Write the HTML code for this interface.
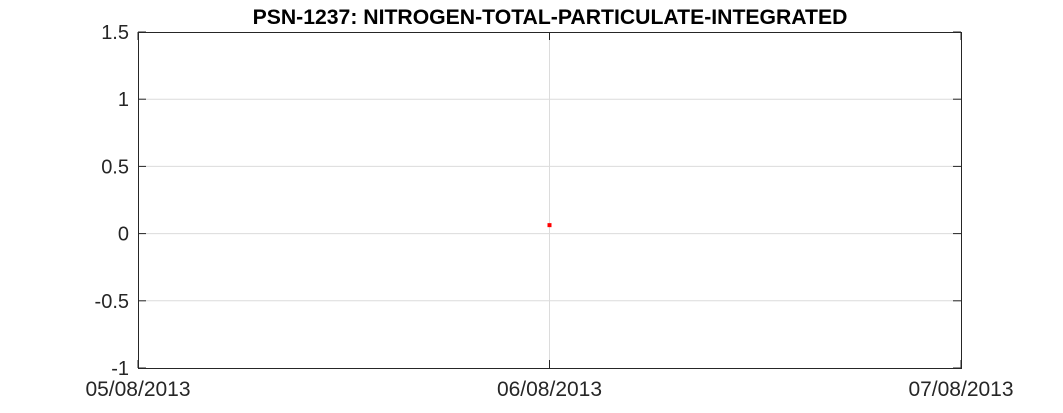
<!DOCTYPE html>
<html><head><meta charset="utf-8"><style>
body{margin:0;background:#fff;}
svg{display:block;font-family:"Liberation Sans",Arial,sans-serif;}
</style></head><body>
<svg id="chart" width="1063" height="413">
<text x="550" y="24" text-anchor="middle" font-size="21.2" font-weight="bold" fill="#000">PSN-1237: NITROGEN-TOTAL-PARTICULATE-INTEGRATED</text>
<g id="grid"></g><g id="axes"></g><g id="marks"></g>
</svg>
<script>
const xTickLabels=["05/08/2013","06/08/2013","07/08/2013"];
const yTicks=[-1,-0.5,0,0.5,1,1.5];
const yTickLabels=["-1","-0.5","0","0.5","1","1.5"];
const pointDates=[1];
const pointValues=[0.063];
const L=138,R=961,T=32,B=368;
const xs=i=>L+(R-L)*i/(xTickLabels.length-1);
const ys=v=>B-(v-(-1))/(2.5)*(B-T);
const NS="http://www.w3.org/2000/svg";
function mk(t,a,p){const e=document.createElementNS(NS,t);for(const k in a)e.setAttribute(k,a[k]);p.appendChild(e);return e;}
const g=document.getElementById('grid'),ax=document.getElementById('axes'),m=document.getElementById('marks');
yTicks.forEach((v,i)=>{
 const y=ys(v);
 if(i>0&&i<yTicks.length-1){const l=mk('line',{x1:L,x2:R,y1:y,y2:y,stroke:'#dcdcdc','stroke-width':1},g);
 
 }
 mk('line',{x1:L,x2:L+8,y1:y,y2:y,stroke:'#262626'},ax);
 mk('line',{x1:R-8,x2:R,y1:y,y2:y,stroke:'#262626'},ax);
 const t=mk('text',{x:L-9,y:y+7,'text-anchor':'end','font-size':20,fill:'#262626'},ax);
 t.textContent=yTickLabels[i];
 
 
});
xTickLabels.forEach((s,i)=>{
 const x=xs(i);
 if(i>0&&i<xTickLabels.length-1){const l=mk('line',{x1:x,x2:x,y1:T,y2:B,stroke:'#dcdcdc'},g);
 
 }
 mk('line',{x1:x,x2:x,y1:B,y2:B-8,stroke:'#262626'},ax);
 mk('line',{x1:x,x2:x,y1:T,y2:T+8,stroke:'#262626'},ax);
 const t=mk('text',{x:x,y:B+28,'text-anchor':'middle','font-size':21,fill:'#262626'},ax);
 t.textContent=s;
 
 
});
const fr=mk('rect',{x:L+0.5,y:T+0.5,width:R-L,height:B-T,fill:'none',stroke:'#262626'},ax);


pointDates.forEach((d,i)=>{
 const r=mk('rect',{x:xs(d)-2,y:ys(pointValues[i])-2,width:4,height:4,fill:'#ff0000'},m);
 
 
});
</script>
</body></html>
